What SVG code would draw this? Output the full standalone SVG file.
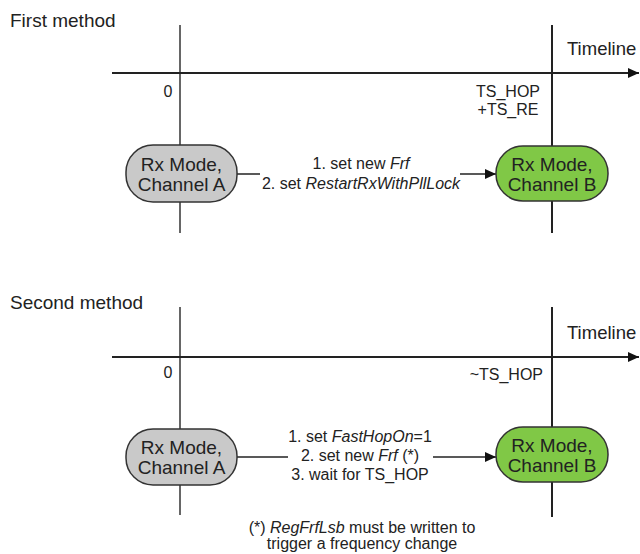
<svg xmlns="http://www.w3.org/2000/svg" width="640" height="554" viewBox="0 0 640 554">
<defs>
<marker id="arr" markerWidth="12" markerHeight="10" refX="11" refY="5" orient="auto" markerUnits="userSpaceOnUse">
<path d="M0,0 L11,5 L0,10 Z" fill="#111"/>
</marker>
<style>
text{font-family:"Liberation Sans",Arial,sans-serif;fill:#222}
.title{font-size:19px}
.tl{font-size:18.5px}
.lbl{font-size:16px}
.node text{font-size:19px;text-anchor:middle}
.axis{stroke:#222;stroke-width:2;fill:none}
.vl{stroke:#666;stroke-width:2}
.vr{stroke:#222;stroke-width:2}
.nA{fill:#c9c9c9;stroke:#333;stroke-width:1.5}
.nB{fill:#80c846;stroke:#333;stroke-width:1.5}
.conn{stroke:#222;stroke-width:1.5;fill:none}
.mid{text-anchor:middle}
</style>
</defs>

<!-- First method -->
<g id="first-method">
<text class="title" x="10" y="27">First method</text>
<line class="vl" x1="180" y1="25" x2="180" y2="233"/>
<line class="vr" x1="552" y1="25" x2="552" y2="233"/>
<line class="axis" x1="112" y1="73" x2="639" y2="73" marker-end="url(#arr)"/>
<text class="tl" x="567" y="55">Timeline</text>
<text class="lbl mid" x="168" y="97">0</text>
<text class="lbl mid" x="508" y="97">TS_HOP</text>
<text class="lbl mid" x="508" y="115">+TS_RE</text>
</g>

<g id="connectors">
<line class="conn" x1="237" y1="174" x2="260" y2="174"/>
<line class="conn" x1="460" y1="174" x2="496" y2="174" marker-end="url(#arr)"/>
<line class="conn" x1="237" y1="457" x2="288" y2="457"/>
<line class="conn" x1="433" y1="457" x2="496" y2="457" marker-end="url(#arr)"/>
</g>

<g id="label1">
<text class="lbl mid" x="361" y="169">1. set new <tspan font-style="italic">Frf</tspan></text>
<text class="lbl mid" x="361" y="189">2. set <tspan font-style="italic">RestartRxWithPllLock</tspan></text>
</g>

<g id="nodeA1" class="node">
<rect class="nA" x="126" y="145" width="111" height="57" rx="27"/>
<text x="181.5" y="171">Rx Mode,</text>
<text x="181.5" y="191">Channel A</text>
</g>
<g id="nodeB1" class="node">
<rect class="nB" x="496" y="146" width="112" height="55" rx="27"/>
<text x="552" y="171">Rx Mode,</text>
<text x="552" y="191">Channel B</text>
</g>

<!-- Second method -->
<g id="second-method">
<text class="title" x="10" y="309">Second method</text>
<line class="vl" x1="180" y1="307" x2="180" y2="515"/>
<line class="vr" x1="552" y1="307" x2="552" y2="517"/>
<line class="axis" x1="112" y1="357" x2="639" y2="357" marker-end="url(#arr)"/>
<text class="tl" x="567" y="339">Timeline</text>
<text class="lbl mid" x="168" y="378">0</text>
<text class="lbl" x="543" y="380" text-anchor="end">~TS_HOP</text>
</g>

<g id="label2">
<text class="lbl mid" x="360" y="442">1. set <tspan font-style="italic">FastHopOn</tspan>=1</text>
<text class="lbl mid" x="360" y="461">2. set new <tspan font-style="italic">Frf</tspan> (*)</text>
<text class="lbl mid" x="360" y="480">3. wait for TS_HOP</text>
</g>

<g id="nodeA2" class="node">
<rect class="nA" x="126" y="429" width="111" height="56" rx="27"/>
<text x="181.5" y="454">Rx Mode,</text>
<text x="181.5" y="474">Channel A</text>
</g>
<g id="nodeB2" class="node">
<rect class="nB" x="496" y="427" width="112" height="55" rx="27"/>
<text x="552" y="452">Rx Mode,</text>
<text x="552" y="472">Channel B</text>
</g>

<g id="footnote">
<text class="lbl mid" x="362" y="533">(*) <tspan font-style="italic">RegFrfLsb</tspan> must be written to</text>
<text class="lbl mid" x="362" y="549">trigger a frequency change</text>
</g>
</svg>
